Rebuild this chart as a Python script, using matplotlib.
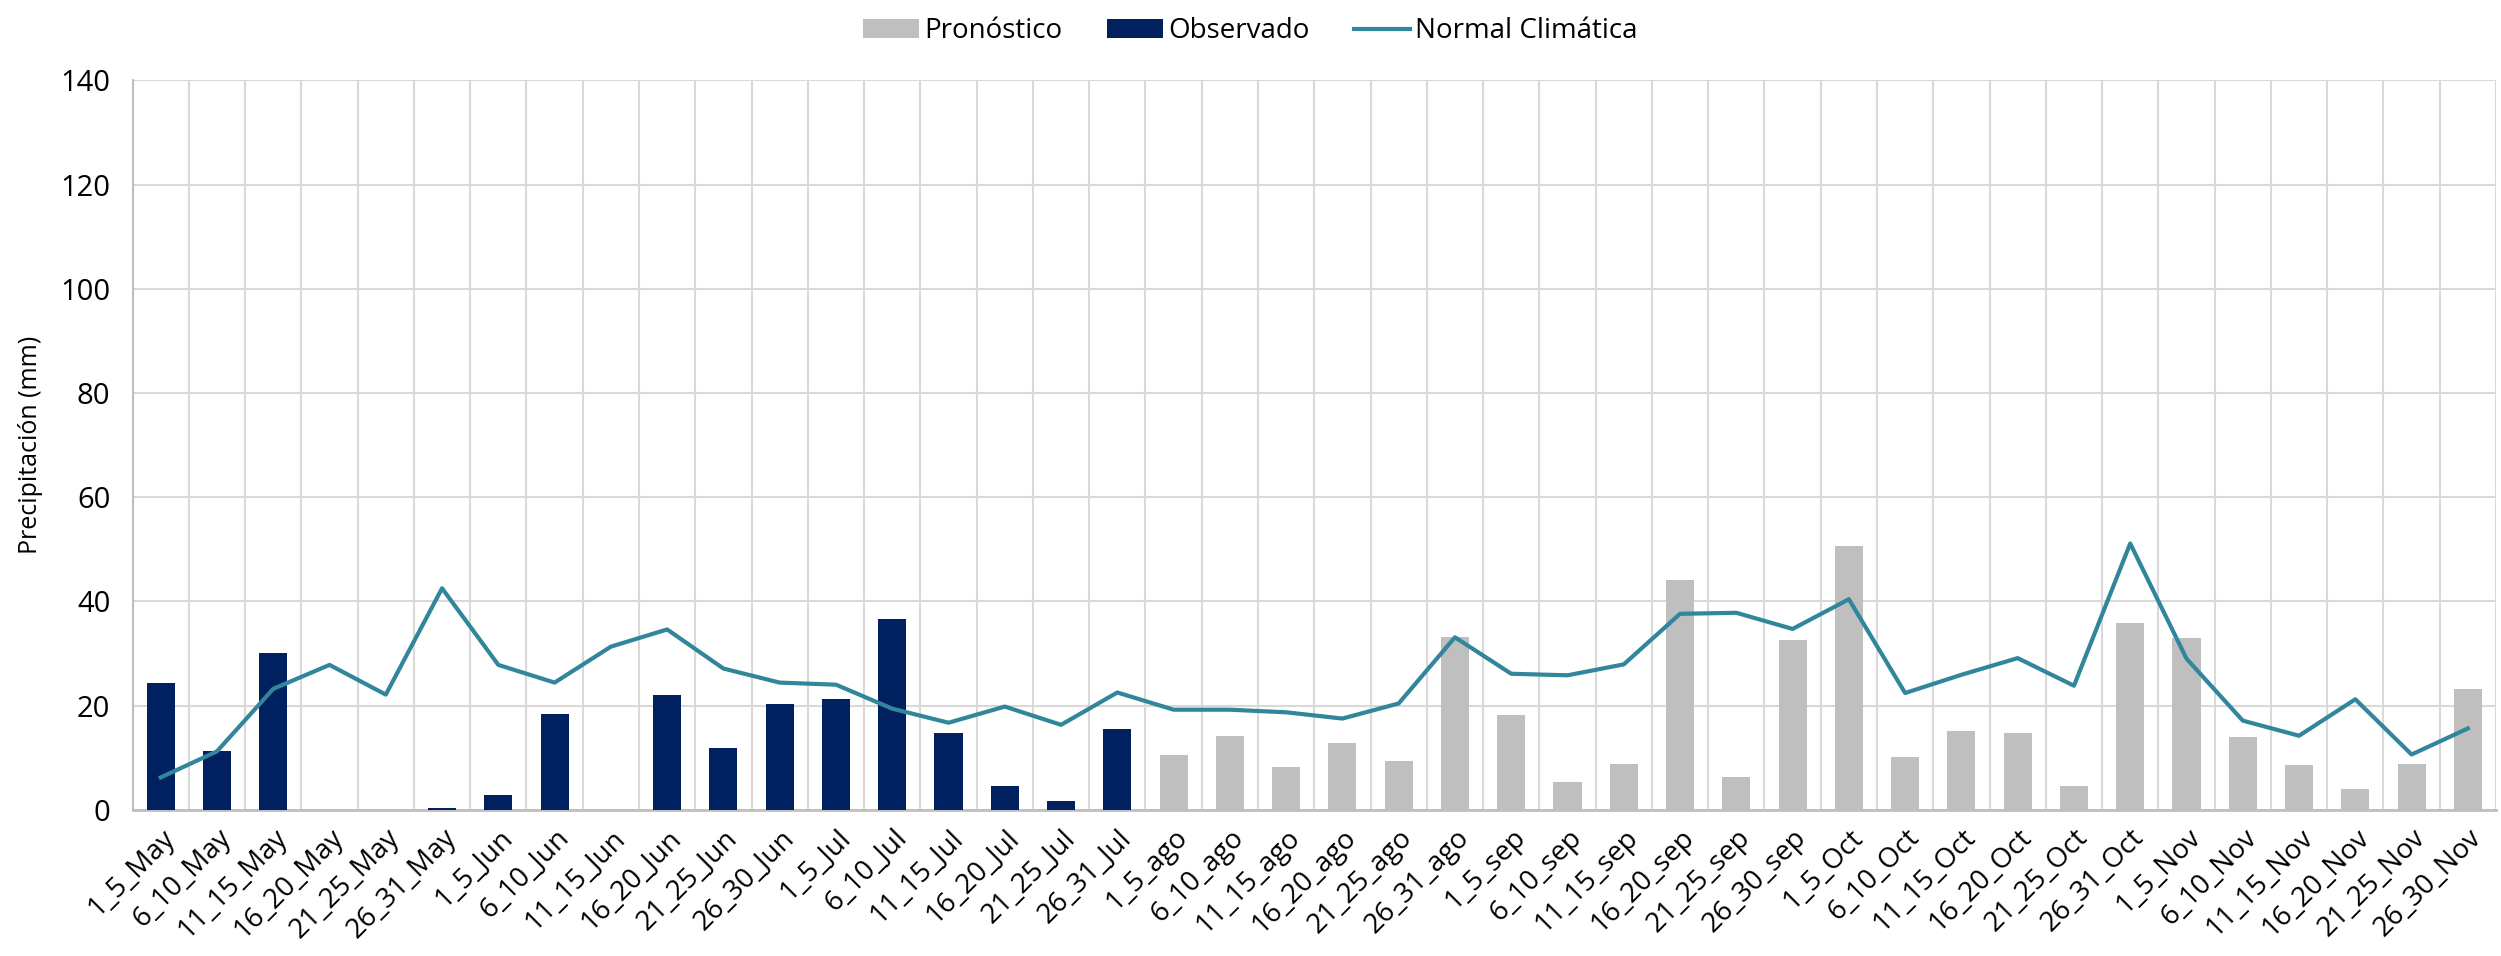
import matplotlib
matplotlib.use("Agg")
import matplotlib.pyplot as plt
import numpy as np

plt.rcParams["font.family"] = ["Open Sans", "DejaVu Sans"]

# categories (5-day periods)
periodos = [
    "1_5_May", "6_10_May", "11_15_May", "16_20_May", "21_25_May", "26_31_May",
    "1_5_Jun", "6_10_Jun", "11_15_Jun", "16_20_Jun", "21_25_Jun", "26_30_Jun",
    "1_5_Jul", "6_10_Jul", "11_15_Jul", "16_20_Jul", "21_25_Jul", "26_31_Jul",
    "1_5_ago", "6_10_ago", "11_15_ago", "16_20_ago", "21_25_ago", "26_31_ago",
    "1_5_sep", "6_10_sep", "11_15_sep", "16_20_sep", "21_25_sep", "26_30_sep",
    "1_5_Oct", "6_10_Oct", "11_15_Oct", "16_20_Oct", "21_25_Oct", "26_31_Oct",
    "1_5_Nov", "6_10_Nov", "11_15_Nov", "16_20_Nov", "21_25_Nov", "26_30_Nov",
]

observado = [
    24.4, 11.3, 30.0, 0.0, 0.0, 0.4,
    2.8, 18.3, 0.0, 22.0, 11.9, 20.3,
    21.3, 36.6, 14.8, 4.6, 1.7, 15.4,
]

pronostico = [
    10.6, 14.1, 8.2, 12.9, 9.4, 33.2,
    18.1, 5.3, 8.7, 44.0, 6.2, 32.6,
    50.7, 10.2, 15.2, 14.7, 4.6, 35.9,
    33.0, 13.9, 8.6, 3.9, 8.8, 23.1,
]

normal = [
    6.2, 11.2, 23.2, 27.8, 22.1, 42.5,
    27.8, 24.4, 31.3, 34.6, 27.1, 24.4,
    24.0, 19.4, 16.7, 19.8, 16.3, 22.5,
    19.2, 19.2, 18.7, 17.5, 20.4, 33.1,
    26.1, 25.8, 27.9, 37.6, 37.8, 34.7,
    40.4, 22.4, 25.9, 29.1, 23.8, 51.1,
    29.0, 17.1, 14.2, 21.2, 10.6, 15.6,
]

c_obs = "#002060"
c_pron = "#BFBFBF"
c_norm = "#31869B"
c_grid = "#D9D9D9"

fig = plt.figure(figsize=(25.01, 9.56), dpi=100)
ax = fig.add_axes([0.053, 0.153, 0.945, 0.763])

x = np.arange(len(periodos))
n_obs = len(observado)
b_pron = ax.bar(x[n_obs:], pronostico, width=0.5, color=c_pron, label="Pronóstico", zorder=3)
b_obs = ax.bar(x[:n_obs], observado, width=0.5, color=c_obs, label="Observado", zorder=3)
l_norm, = ax.plot(x, normal, color=c_norm, lw=3, label="Normal Climática", zorder=4)

ax.set_xlim(-0.5, len(periodos) - 0.5)
ax.set_ylim(0, 140)
ax.set_yticks(range(0, 141, 20))
ax.set_xticks(x)
ax.set_xticklabels(periodos, rotation=45, ha="right", rotation_mode="anchor",
                   fontsize=20)
ax.tick_params(axis="y", labelsize=21, length=0, pad=16)
ax.tick_params(axis="x", length=0, pad=10)

# Excel-like grid: horizontal lines and vertical lines between categories
ax.grid(axis="y", color=c_grid, lw=1.5, zorder=0)
for b in np.arange(-0.5, len(periodos), 1.0):
    ax.axvline(b, color=c_grid, lw=1.5, zorder=0)

for s in ["top", "right"]:
    ax.spines[s].set_visible(False)
ax.spines["left"].set_color("#BFBFBF")
ax.spines["left"].set_linewidth(1.5)
ax.spines["bottom"].set_color("#BFBFBF")
ax.spines["bottom"].set_linewidth(2)

ax.set_ylabel("Precipitación (mm)", fontsize=18)
ax.yaxis.set_label_coords(-0.038, 0.5)

fig.legend([b_pron, b_obs, l_norm], ["Pronóstico", "Observado", "Normal Climática"],
           loc="upper center", bbox_to_anchor=(0.5, 1.008), ncol=3, frameon=False,
           fontsize=20, handlelength=2.0, handleheight=0.7, columnspacing=1.6,
           handletextpad=0.2)

fig.savefig("out.png", dpi=100)
